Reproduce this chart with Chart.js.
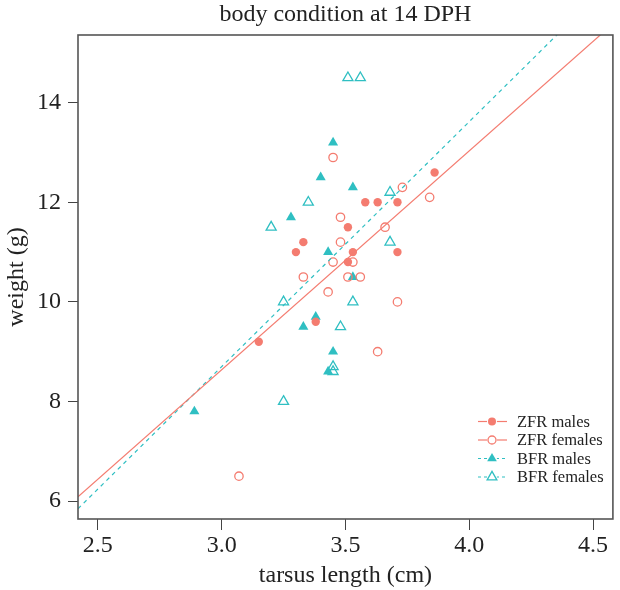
<!DOCTYPE html>
<html><head><meta charset="utf-8">
<script src="https://cdn.jsdelivr.net/npm/chart.js@4.4.1/dist/chart.umd.min.js"></script>
<style>html,body{margin:0;padding:0;background:#fff}#wrap{width:620px;height:590px}</style>
</head><body><div id="wrap"><canvas id="c" width="620" height="590"></canvas></div>
<script>
const titleText = 'body condition at 14 DPH';
const xTitle = 'tarsus length (cm)';
const yTitle = 'weight (g)';
const xTicks = [2.5, 3.0, 3.5, 4.0, 4.5];
const yTicks = [6, 8, 10, 12, 14];
const xRange = [2.42, 4.58];
const yRange = [5.64, 15.36];
const seriesNames = ['ZFR males', 'ZFR females', 'BFR males', 'BFR females'];

const zfrMalesX = [3.86, 3.58, 3.63, 3.71, 3.51, 3.33, 3.30, 3.53, 3.71, 3.51, 3.38, 3.15];
const zfrMalesY = [12.6, 12.0, 12.0, 12.0, 11.5, 11.2, 11.0, 11.0, 11.0, 10.8, 9.6, 9.2];
const zfrFemalesX = [3.45, 3.73, 3.84, 3.48, 3.66, 3.48, 3.45, 3.53, 3.33, 3.51, 3.56, 3.43, 3.71, 3.63, 3.07];
const zfrFemalesY = [12.9, 12.3, 12.1, 11.7, 11.5, 11.2, 10.8, 10.8, 10.5, 10.5, 10.5, 10.2, 10.0, 9.0, 6.5];
const bfrMalesX = [3.45, 3.40, 3.53, 3.28, 3.43, 3.53, 3.38, 3.33, 3.45, 3.43, 2.89];
const bfrMalesY = [13.2, 12.5, 12.3, 11.7, 11.0, 10.5, 9.7, 9.5, 9.0, 8.6, 7.8];
const bfrFemalesX = [3.51, 3.56, 3.68, 3.35, 3.20, 3.68, 3.25, 3.53, 3.48, 3.45, 3.45, 3.25];
const bfrFemalesY = [14.5, 14.5, 12.2, 12.0, 11.5, 11.2, 10.0, 10.0, 9.5, 8.7, 8.6, 8.0];

// regression fits: [intercept, slope]
const zfrFit = [-4.55, 4.396];
const bfrFit = [-6.06, 4.92];

const RED = '#F47C70';
const CYAN = '#2FBFC2';
const FONT = "'Liberation Serif', 'Times New Roman', serif";
const TXT = '#222';

const pts = (xs, ys) => xs.map((x, i) => ({x, y: ys[i]}));
const fitLine = f => xRange.map(x => ({x, y: f[0] + f[1] * x}));

const styles = [
  {color: RED, style: 'circle', fill: true, dash: false},
  {color: RED, style: 'circle', fill: false, dash: false},
  {color: CYAN, style: 'triangle', fill: true, dash: true},
  {color: CYAN, style: 'triangle', fill: false, dash: true}
];

function pointDs(i, data) {
  const s = styles[i];
  const r = s.style === 'circle' ? 4.2 : 5.8;
  return {
    label: seriesNames[i], data, showLine: false,
    pointStyle: s.style, pointRadius: r, pointHoverRadius: r,
    pointBackgroundColor: s.fill ? s.color : 'rgba(0,0,0,0)',
    pointBorderColor: s.color, pointBorderWidth: s.fill ? 0 : 1.3,
    borderColor: s.color, backgroundColor: s.fill ? s.color : 'rgba(0,0,0,0)'
  };
}

const titlePlugin = {
  id: 'plotTitle',
  afterDraw(chart) {
    const a = chart.chartArea, ctx = chart.ctx;
    ctx.save();
    ctx.font = '24px ' + FONT;
    ctx.fillStyle = TXT;
    ctx.textAlign = 'center';
    ctx.textBaseline = 'alphabetic';
    ctx.fillText(titleText, (a.left + a.right) / 2, 21);
    ctx.restore();
  }
};

const legendPlugin = {
  id: 'customLegend',
  afterDraw(chart) {
    const ctx = chart.ctx;
    const x0 = 478, x1 = 507, xm = 492, xt = 517;
    const y0 = 421.5, dy = 18.5;
    ctx.save();
    ctx.font = '16.5px ' + FONT;
    ctx.textBaseline = 'middle';
    ctx.textAlign = 'left';
    seriesNames.forEach((name, i) => {
      const s = styles[i];
      const y = y0 + i * dy;
      ctx.strokeStyle = s.color;
      ctx.lineWidth = 1.2;
      ctx.setLineDash(s.dash ? [3, 3] : []);
      ctx.beginPath(); ctx.moveTo(x0, y); ctx.lineTo(x1, y); ctx.stroke();
      ctx.setLineDash([]);
      ctx.fillStyle = '#fff';
      ctx.beginPath(); ctx.arc(xm, y, 5, 0, Math.PI * 2); ctx.fill();
      ctx.fillStyle = s.color;
      ctx.lineWidth = 1.3;
      ctx.beginPath();
      if (s.style === 'circle') {
        ctx.arc(xm, y, 4, 0, Math.PI * 2);
      } else {
        const r = 5.6;
        ctx.moveTo(xm, y - r);
        ctx.lineTo(xm + r * Math.sin(2 * Math.PI / 3), y - r * Math.cos(2 * Math.PI / 3));
        ctx.lineTo(xm + r * Math.sin(4 * Math.PI / 3), y - r * Math.cos(4 * Math.PI / 3));
        ctx.closePath();
      }
      if (s.fill) ctx.fill(); else ctx.stroke();
      ctx.fillStyle = TXT;
      ctx.fillText(name, xt, y + 1);
    });
    ctx.restore();
  }
};

const boxPlugin = {
  id: 'box',
  afterDraw(chart) {
    const a = chart.chartArea, ctx = chart.ctx;
    ctx.save();
    ctx.strokeStyle = '#555';
    ctx.lineWidth = 1.6;
    ctx.strokeRect(a.left, a.top, a.right - a.left, a.bottom - a.top);
    ctx.restore();
  }
};

new Chart(document.getElementById('c'), {
  type: 'scatter',
  data: {
    datasets: [
      {type: 'line', label: 'ZFR fit', data: fitLine(zfrFit), borderColor: RED, borderWidth: 1.2, pointRadius: 0, fill: false},
      {type: 'line', label: 'BFR fit', data: fitLine(bfrFit), borderColor: CYAN, borderWidth: 1.2, borderDash: [4, 4], pointRadius: 0, fill: false},
      pointDs(0, pts(zfrMalesX, zfrMalesY)),
      pointDs(1, pts(zfrFemalesX, zfrFemalesY)),
      pointDs(2, pts(bfrMalesX, bfrMalesY)),
      pointDs(3, pts(bfrFemalesX, bfrFemalesY))
    ]
  },
  options: {
    responsive: false, animation: false, devicePixelRatio: 1,
    layout: {padding: {left: 0, right: 1, top: 35, bottom: 0}},
    plugins: {legend: {display: false}, tooltip: {enabled: false}, title: {display: false}},
    scales: {
      x: {
        type: 'linear', min: xRange[0], max: xRange[1],
        afterBuildTicks: s => { s.ticks = xTicks.map(v => ({value: v})); },
        afterFit: s => { s.height = 71; },
        ticks: {callback: v => Number(v).toFixed(1), color: TXT, font: {family: FONT, size: 24}, padding: 1, maxRotation: 0, autoSkip: false},
        grid: {drawOnChartArea: false, tickLength: 11, color: '#444', tickWidth: 1},
        border: {display: false},
        title: {display: true, text: xTitle, color: TXT, font: {family: FONT, size: 24}, padding: {top: 0, bottom: 0}}
      },
      y: {
        type: 'linear', min: yRange[0], max: yRange[1],
        afterBuildTicks: s => { s.ticks = yTicks.map(v => ({value: v})); },
        afterFit: s => { s.width = 78; },
        ticks: {callback: v => String(v), color: TXT, font: {family: FONT, size: 24}, padding: 7, autoSkip: false},
        grid: {drawOnChartArea: false, tickLength: 10, color: '#444', tickWidth: 1},
        border: {display: false},
        title: {display: true, text: yTitle, color: TXT, font: {family: FONT, size: 24}, padding: {top: 2, bottom: 2}}
      }
    }
  },
  plugins: [legendPlugin, boxPlugin, titlePlugin]
});
</script></body></html>
